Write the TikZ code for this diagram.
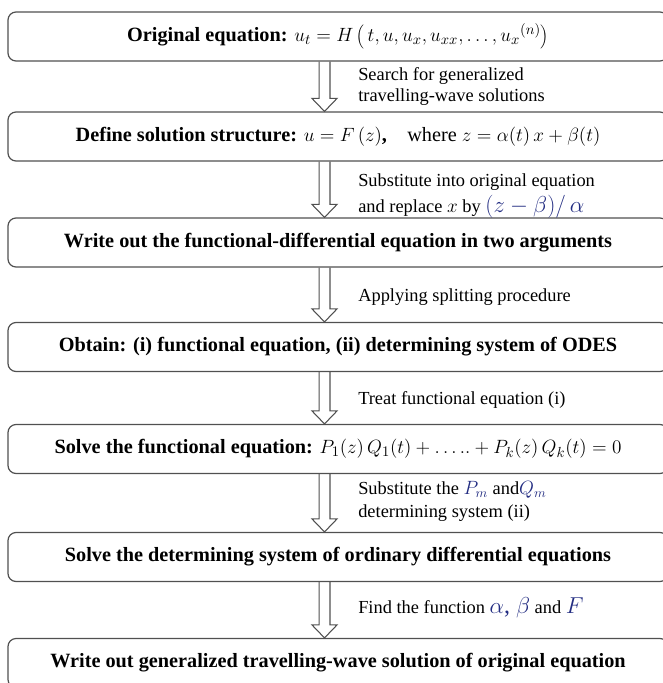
\documentclass[tikz,border=0pt]{standalone}
\usepackage{fontspec}
\setmainfont{Liberation Serif}
\usetikzlibrary{calc}
\definecolor{mblue}{RGB}{35,45,130}
\definecolor{edgec}{RGB}{80,80,80}
\newcommand\hollowarrow[2]{%
  \draw[harrow] let \p1=(ax |- #1.south), \p2=(ax |- #2.north) in
    (\x1-4.1pt,\y1) -- (\x1-4.1pt,\y2+9.75pt) -- (\x1-9.4pt,\y2+9.75pt) --
    (\x1,\y2) -- (\x1+9.4pt,\y2+9.75pt) -- (\x1+4.1pt,\y2+9.75pt) -- (\x1+4.1pt,\y1);}
\begin{document}
\begin{tikzpicture}[x=0.75pt,y=-0.75pt,
  stepbox/.style={draw=edgec, line width=0.9pt, rounded corners=6pt,
    minimum width=495pt, minimum height=36.75pt, inner sep=0pt,
    font=\fontsize{15.2}{18}\selectfont\bfseries},
  lbl/.style={anchor=west, inner sep=0pt, align=left,
    font=\fontsize{13.8}{15.75}\selectfont},
  harrow/.style={draw=edgec, line width=0.8pt}]
\useasboundingbox (0,0) rectangle (662,683);
\coordinate (ax) at (324.5,0);

\node[stepbox] (b1) at (338,36.5) {Original equation: $u_t=H\left(\,t,u,u_x,u_{xx},\ldots,u_x{}^{(n)}\right)$};
\node[stepbox] (b2) at (338,136.5) {Define solution structure: $u=F\left(z\right)$,\quad\mdseries where $z=\alpha(t)\,x+\beta(t)$};
\node[stepbox] (b3) at (338,242.5) {Write out the functional-differential equation in two arguments};
\node[stepbox] (b4) at (338,347) {Obtain: (i) functional equation, (ii) determining system of ODES};
\node[stepbox] (b5) at (338,449) {Solve the functional equation: \mdseries$P_1(z)\,Q_1(t)+\ldots..+P_k(z)\,Q_k(t)=0$};
\node[stepbox] (b6) at (338,557) {Solve the determining system of ordinary differential equations};
\node[stepbox] (b7) at (338,663) {Write out generalized travelling-wave solution of original equation};

\hollowarrow{b1}{b2}
\hollowarrow{b2}{b3}
\hollowarrow{b3}{b4}
\hollowarrow{b4}{b5}
\hollowarrow{b5}{b6}
\hollowarrow{b6}{b7}

\node[lbl] (l1) at (358,86.5) {Search for generalized\\travelling-wave solutions};
\node[lbl] (l2) at (358,196) {Substitute into original equation\\[3pt]and replace $x$ by {\color{mblue}\fontsize{17}{18}\selectfont$\bigl(z-\beta\bigr)/\,\alpha$}};
\node[lbl] (l3) at (358,297) {Applying splitting procedure};
\node[lbl] (l4) at (358,400) {Treat functional equation (i)};
\node[lbl] (l5) at (358,501.5) {Substitute the {\color{mblue}$P_m$} and{\color{mblue}$Q_m$}\\[1pt]determining system (ii)};
\node[lbl] (l6) at (358,608) {Find the function {\color{mblue}\fontsize{18}{18}\selectfont$\alpha$, $\beta$} and {\color{mblue}\fontsize{16}{18}\selectfont$F$}};
\end{tikzpicture}
\end{document}
